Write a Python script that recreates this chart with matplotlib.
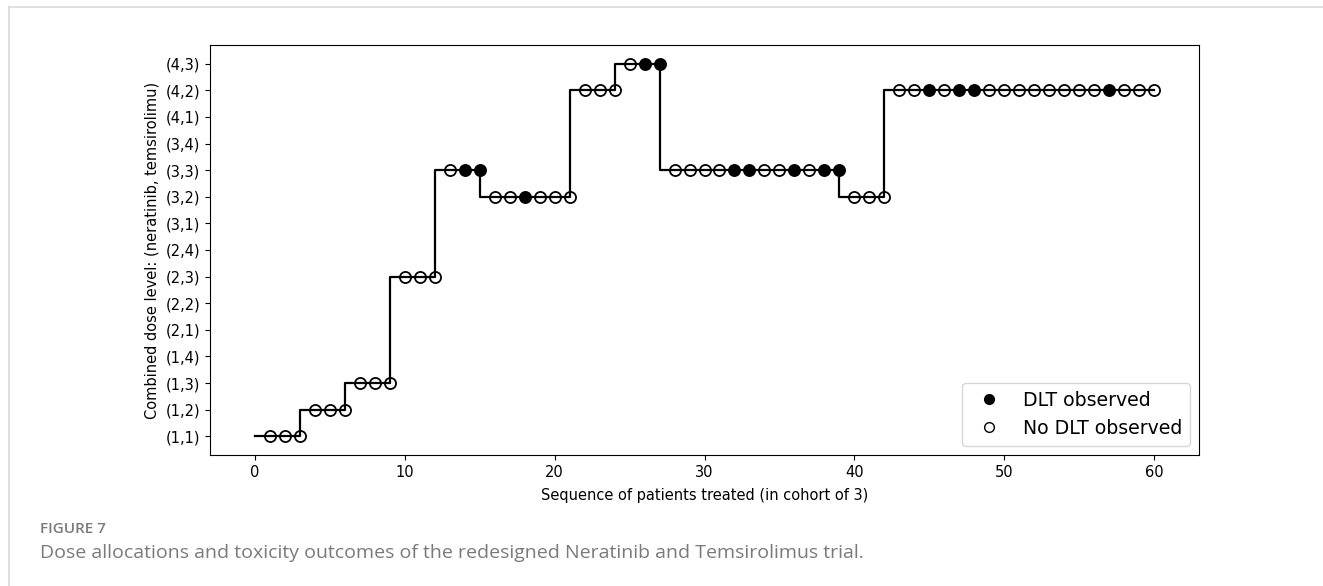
import numpy as np
import matplotlib.pyplot as plt
from matplotlib.lines import Line2D

# Dose levels on the y axis (index = position)
level_labels = ["(1,1)", "(1,2)", "(1,3)", "(1,4)",
                "(2,1)", "(2,2)", "(2,3)", "(2,4)",
                "(3,1)", "(3,2)", "(3,3)", "(3,4)",
                "(4,1)", "(4,2)", "(4,3)"]

# Dose given to each patient, patients 1..60 in order
patient_dose = (["(1,1)"] * 3 + ["(1,2)"] * 3 + ["(1,3)"] * 3 + ["(2,3)"] * 3
                + ["(3,3)"] * 3 + ["(3,2)"] * 6 + ["(4,2)"] * 3 + ["(4,3)"] * 3
                + ["(3,3)"] * 12 + ["(3,2)"] * 3 + ["(4,2)"] * 18)

# Patients with a DLT
dlt_patients = [14, 15, 18, 26, 27, 32, 33, 36, 38, 39, 45, 47, 48, 57]

patients = np.arange(1, len(patient_dose) + 1)
levels = np.array([level_labels.index(d) for d in patient_dose])
dlt = np.isin(patients, dlt_patients)

fig = plt.figure(figsize=(13.23, 5.86), dpi=100)
ax = fig.add_axes([210 / 1323, 1 - 455 / 586, 989 / 1323, 410 / 586])

# step line, starting at 0
x_line = np.concatenate([[0], patients])
y_line = np.concatenate([[levels[0]], levels])
ax.step(x_line, y_line, where="pre", color="black", lw=1.6, zorder=1)

ax.plot(patients[~dlt], levels[~dlt], "o", ms=8, mfc="none", mec="black", mew=1.3, zorder=2)
ax.plot(patients[dlt], levels[dlt], "o", ms=8, mfc="black", mec="black", mew=1.3, zorder=2)

ax.set_yticks(range(len(level_labels)))
ax.set_yticklabels(level_labels)
ax.set_xticks([0, 10, 20, 30, 40, 50, 60])
ax.set_xlim(-3, 63)
ax.set_ylim(-0.7, 14.7)
ax.tick_params(labelsize=10.5)
ax.set_xlabel("Sequence of patients treated (in cohort of 3)", fontsize=10.5, labelpad=6)
ax.set_ylabel("Combined dose level: (neratinib, temsirolimu)", fontsize=10.5)

handles = [Line2D([], [], ls="none", marker="o", ms=7, mfc="black", mec="black"),
           Line2D([], [], ls="none", marker="o", ms=7, mfc="white", mec="black")]
ax.legend(handles, ["DLT observed", "No DLT observed"], loc="lower right", fontsize=13.6)

# page frame and caption
fig.add_artist(Line2D([9 / 1323, 1], [1 - 7 / 586, 1 - 7 / 586], color="#d9d9d9", lw=1.2))
fig.add_artist(Line2D([9 / 1323, 9 / 1323], [0, 1 - 7 / 586], color="#d9d9d9", lw=1.2))
fig.text(40 / 1323, 1 - 529 / 586, "FIGURE 7", fontsize=11, color="#7a7a7a",
         family="Open Sans", weight="semibold", va="center")
fig.text(40 / 1323, 1 - 553 / 586,
         "Dose allocations and toxicity outcomes of the redesigned Neratinib and Temsirolimus trial.",
         fontsize=14, color="#7a7a7a", family="Open Sans", va="center")

fig.savefig("out.png", dpi=100)
